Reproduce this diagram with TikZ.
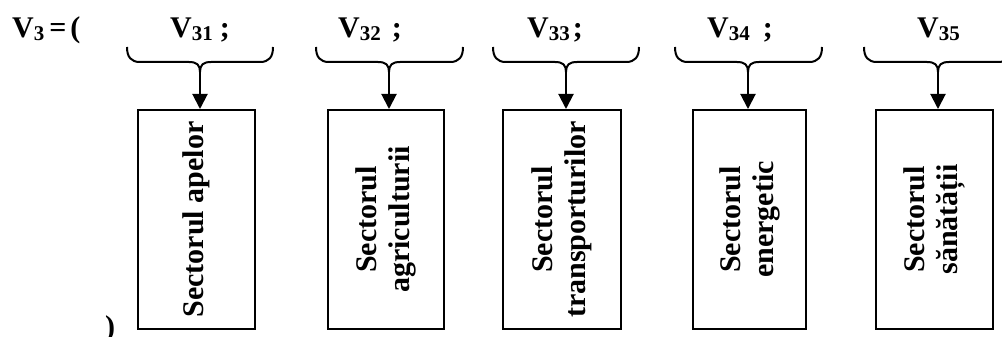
\documentclass[tikz,border=0pt]{standalone}
\usepackage{fontspec}
\setmainfont{Liberation Serif}
\usetikzlibrary{arrows.meta}
\tikzset{
  boxstyle/.style={draw, line width=2pt, inner sep=0pt},
  lblstyle/.style={rotate=90, align=center, inner sep=0pt, font=\fontsize{30}{33}\selectfont\bfseries},
  vstyle/.style={anchor=base west, inner sep=0pt, font=\fontsize{30}{33}\selectfont\bfseries},
  bracestyle/.style={line width=2pt},
  arrstyle/.style={line width=2pt, -{Triangle[width=15pt,length=15pt]}}
}
\newcommand{\vsub}[1]{\raisebox{-2pt}{\fontsize{21}{21}\selectfont #1}}
\begin{document}
\begin{tikzpicture}[x=1pt,y=-1pt]
\useasboundingbox (0,0) rectangle (1002,337);
% labels
\node[vstyle] (v3) at (12,38) {V\vsub{3}\hspace{5pt}=\hspace{4pt}(};
\node[vstyle] (v31) at (170,38) {V\vsub{31}\hspace{7pt};};
\node[vstyle] (v32) at (338,38) {V\vsub{32}\hspace{11pt};};
\node[vstyle] (v33) at (527,38) {V\vsub{33}\hspace{3pt};};
\node[vstyle] (v34) at (707,38) {V\vsub{34}\hspace{13pt};};
\node[vstyle] (v35) at (917,38) {V\vsub{35}};
\node[vstyle] (close) at (105,336) {)};
% boxes
\node[boxstyle, minimum width=117pt, minimum height=219pt] (b1) at (196.5,219.5) {};
\node[boxstyle, minimum width=116pt, minimum height=219pt] (b2) at (386,219.5) {};
\node[boxstyle, minimum width=118pt, minimum height=219pt] (b3) at (562,219.5) {};
\node[boxstyle, minimum width=113pt, minimum height=219pt] (b4) at (749.5,219.5) {};
\node[boxstyle, minimum width=117pt, minimum height=219pt] (b5) at (934.5,219.5) {};
\node[lblstyle] (t1) at (b1.center) {Sectorul apelor};
\node[lblstyle] (t2) at (b2.center) {Sectorul\\agriculturii};
\node[lblstyle] (t3) at (b3.center) {Sectorul\\transporturilor};
\node[lblstyle] (t4) at (b4.center) {Sectorul\\energetic};
\node[lblstyle] (t5) at (b5.center) {Sectorul\\sănătății};
% braces
\foreach \L/\C/\R/\n in {127/200/273/1, 316/389/463/2, 493/566/639/3, 675/748/822/4, 864/938/1011/5}{
  \draw[bracestyle] (\L,47) .. controls (\L,57) and (\L+4,62) .. (\L+13,62)
     -- (\C-11,62) .. controls (\C-3,62) and (\C,65) .. (\C,72)
     .. controls (\C,65) and (\C+3,62) .. (\C+11,62)
     -- (\R-13,62) .. controls (\R-4,62) and (\R,57) .. (\R,47);
  \coordinate (c\n) at (\C,72);
  \draw[arrstyle] (c\n) -- (c\n |- b\n.north);
}
\end{tikzpicture}
\end{document}
